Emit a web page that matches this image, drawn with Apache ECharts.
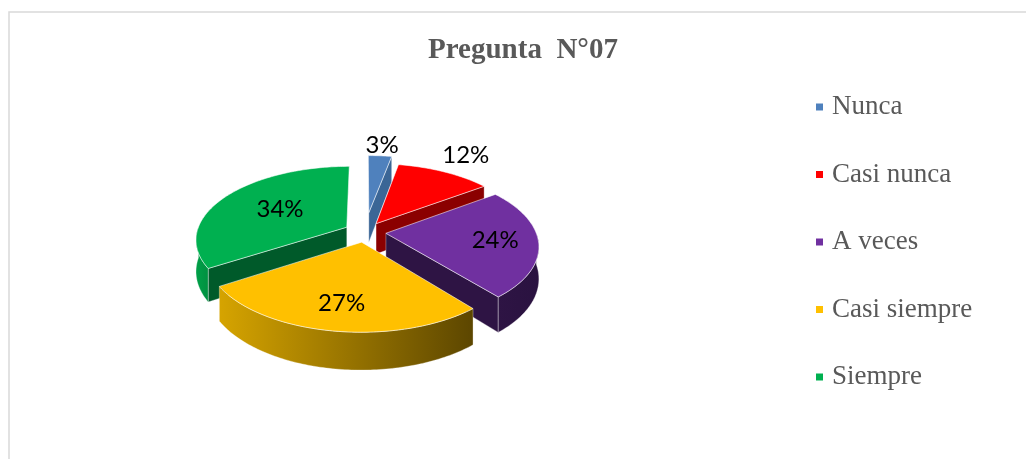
<!DOCTYPE html>
<html>
<head>
<meta charset="utf-8">
<script src="https://cdn.jsdelivr.net/npm/echarts@6/dist/echarts.min.js"></script>
<style>
  html, body { margin: 0; padding: 0; background: #fff; }
  #chart { width: 1026px; height: 459px; }
</style>
</head>
<body>
<div id="chart"></div>
<script>
// ---- data ----
const categories = ['Nunca', 'Casi nunca', 'A veces', 'Casi siempre', 'Siempre'];
const values = [3, 12, 24, 27, 34];
const titleText = 'Pregunta  N°07';

// ---- styles / layout ----
const topColors = ['#4F81BD', '#FF0000', '#7030A0', '#FFC000', '#00B050'];
const sideColors = ['#3B6696', '#8B0000', '#2E1444', '#8A6800', '#005A2A'];
const wallColors = [
  ['#3B6696', '#3B6696'],
  ['#8B0000', '#8B0000'],
  ['#2E1444', '#2A1240'],
  ['#D6A400', '#5C4600'],
  ['#00A048', '#009040']
];
const CX = 365, CY = 232, RX = 150, RY = 72, DEPTH = 31, PERSP = 0.16;
const explode = [0.28, 0.14, 0.14, 0.14, 0.14];
const labelR = [1.5, 1.51, 0.86, 0.86, 0.68];

const total = values.reduce((a, b) => a + b, 0);
const starts = [];
(function () { let acc = 0; values.forEach(v => { starts.push(acc / total * 360); acc += v; }); })();

function proj(u, v, h) {
  const s = 1 / (1 - PERSP * v);
  return [CX + RX * u * s, CY + RY * v * s + DEPTH * h * s];
}
const D = Math.PI / 180;

function makeRender(i) {
  return function (params, api) {
    const val = api.value(0);
    const a0 = starts[i];
    const a1 = a0 + val / total * 360;
    const midDeg = (a0 + a1) / 2;
    const mid = midDeg * D;
    const e = explode[i];
    const ou = e * Math.sin(mid), ov = -e * Math.cos(mid);
    const P = (deg, r, h) => proj(ou + r * Math.sin(deg * D), ov - r * Math.cos(deg * D), h);
    const arc = (from, to, h) => {
      const pts = [];
      const n = Math.max(2, Math.ceil(Math.abs(to - from) / 1));
      for (let k = 0; k <= n; k++) pts.push(P(from + (to - from) * k / n, 1, h));
      return pts;
    };
    const children = [];
    const edge = 'rgba(255,255,255,0.55)';
    // outer wall
    const lo = Math.max(a0, 90), hi = Math.min(a1, 270);
    if (hi > lo) {
      const pts = arc(lo, hi, 0).concat(arc(hi, lo, 1));
      const wm = (lo + hi) / 2 * D;
      children.push({
        type: 'polygon', shape: { points: pts }, z2: 100 + Math.round((ov - Math.cos(wm)) * 100),
        style: {
          fill: new echarts.graphic.LinearGradient(0, 0, 1, 0, [
            { offset: 0, color: wallColors[i][0] }, { offset: 1, color: wallColors[i][1] }
          ]),
          stroke: edge, lineWidth: 0.6
        }
      });
    }
    // radial faces
    const face = (deg, normalDeg) => {
      const nv = -Math.cos(normalDeg * D);
      if (nv <= 0.01) return;
      const pts = [P(0, 0, 0), P(deg, 1, 0), P(deg, 1, 1), P(0, 0, 1)];
      children.push({
        type: 'polygon', shape: { points: pts },
        z2: 100 + Math.round((ov - 0.5 * Math.cos(deg * D)) * 100),
        style: { fill: sideColors[i], stroke: edge, lineWidth: 0.6 }
      });
    };
    face(a0, a0 - 90);
    face(a1, a1 + 90);
    // top face
    const topPts = [P(0, 0, 0)].concat(arc(a0, a1, 0));
    children.push({
      type: 'polygon', shape: { points: topPts }, z2: 1000,
      style: { fill: topColors[i], stroke: 'rgba(255,255,255,0.7)', lineWidth: 0.8 }
    });
    // label
    const lp = proj(labelR[i] * Math.sin(mid), -labelR[i] * Math.cos(mid), 0);
    children.push({
      type: 'text', z2: 2000, x: lp[0], y: lp[1],
      style: {
        text: Math.round(val / total * 100) + '%',
        fill: '#000', font: '24px Lato',
        align: 'center', verticalAlign: 'middle',
        textAlign: 'center', textVerticalAlign: 'middle'
      }
    });
    return { type: 'group', children: children };
  };
}

const chart = echarts.init(document.getElementById('chart'), null, { renderer: 'canvas' });
chart.setOption({
  animation: false,
  color: topColors,
  graphic: [{
    type: 'rect', z: -10, silent: true,
    shape: { x: 9, y: 12, width: 1100, height: 600 },
    style: { fill: 'none', stroke: '#D9D9D9', lineWidth: 1.5 }
  }],
  title: {
    text: titleText, left: 523, top: 36, textAlign: 'center', padding: 0,
    textStyle: { fontFamily: 'Liberation Serif', fontWeight: 'bold', fontSize: 29, color: '#595959' }
  },
  legend: {
    orient: 'vertical', left: 816, top: 92, padding: 0, icon: 'rect',
    itemWidth: 7, itemHeight: 7, itemGap: 37.5,
    data: categories,
    textStyle: { fontFamily: 'Liberation Serif', fontSize: 27, color: '#595959', lineHeight: 30, padding: [0, 0, 0, 4] }
  },
  series: categories.map((name, i) => ({
    type: 'custom', name: name, coordinateSystem: 'none', silent: true,
    renderItem: makeRender(i), data: [values[i]]
  }))
});
</script>
</body>
</html>
